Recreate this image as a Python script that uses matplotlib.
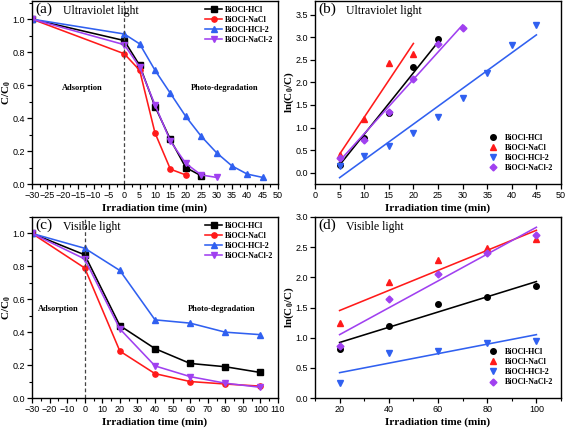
import matplotlib
matplotlib.use("Agg")
import matplotlib.pyplot as plt
from matplotlib.ticker import MultipleLocator, FormatStrFormatter

# ---- data ----
labels = ["BiOCl-HCl", "BiOCl-NaCl", "BiOCl-HCl-2", "BiOCl-NaCl-2"]
colors = ["#000000", "#ff1a1a", "#3060f0", "#a040f0"]

# (a) UV, C/C0 vs time
uv_t_hcl = [-30, 0, 5, 10, 15, 20, 25]
uv_c_hcl = [1.0, 0.87, 0.72, 0.47, 0.27, 0.10, 0.05]
uv_t_nacl = [-30, 0, 5, 10, 15, 20]
uv_c_nacl = [1.0, 0.79, 0.69, 0.31, 0.09, 0.055]
uv_t_hcl2 = [-30, 0, 5, 10, 15, 20, 25, 30, 35, 40, 45]
uv_c_hcl2 = [1.0, 0.91, 0.85, 0.69, 0.55, 0.41, 0.29, 0.19, 0.11, 0.06, 0.04]
uv_t_nacl2 = [-30, 0, 5, 10, 15, 20, 25, 30]
uv_c_nacl2 = [1.0, 0.845, 0.71, 0.48, 0.26, 0.125, 0.055, 0.04]

# (b) UV, ln(C0/C) points and fitted line ends
uvk_t_hcl = [5, 10, 15, 20, 25]
uvk_y_hcl = [0.17, 0.76, 1.32, 2.33, 2.97]
uvk_t_nacl = [5, 10, 15, 20]
uvk_y_nacl = [0.40, 1.18, 2.43, 2.63]
uvk_t_hcl2 = [5, 10, 15, 20, 25, 30, 35, 40, 45]
uvk_y_hcl2 = [0.15, 0.36, 0.60, 0.88, 1.24, 1.66, 2.20, 2.82, 3.26]
uvk_t_nacl2 = [5, 10, 15, 20, 25, 30]
uvk_y_nacl2 = [0.33, 0.73, 1.34, 2.08, 2.85, 3.20]
uvfit_x = [[5, 25], [5, 20], [5, 45], [5, 30]]
uvfit_y = [[0.17, 2.89], [0.41, 2.86], [-0.11, 3.05], [0.26, 3.27]]

# (c) visible, C/C0 vs time
vis_t = [-30, 0, 20, 40, 60, 80, 100]
vis_c_hcl = [1.0, 0.87, 0.44, 0.30, 0.21, 0.19, 0.155]
vis_c_nacl = [1.0, 0.79, 0.285, 0.148, 0.10, 0.085, 0.072]
vis_c_hcl2 = [1.0, 0.91, 0.775, 0.475, 0.455, 0.40, 0.385]
vis_c_nacl2 = [1.0, 0.845, 0.42, 0.195, 0.13, 0.09, 0.065]

# (d) visible, ln(C0/C)
visk_t = [20, 40, 60, 80, 100]
visk_y_hcl = [0.82, 1.20, 1.56, 1.67, 1.85]
visk_y_nacl = [1.25, 1.92, 2.29, 2.48, 2.63]
visk_y_hcl2 = [0.25, 0.74, 0.78, 0.91, 0.95]
visk_y_nacl2 = [0.86, 1.64, 2.05, 2.40, 2.70]
visfit_x = [20, 100]
visfit_y = [[0.92, 1.93], [1.45, 2.78], [0.42, 1.05], [1.05, 2.83]]

SERIF = "Liberation Serif"
SANS = "Liberation Sans"
plt.rcParams["font.family"] = SANS
plt.rcParams["mathtext.fontset"] = "custom"
plt.rcParams["mathtext.rm"] = SERIF
plt.rcParams["mathtext.bf"] = SERIF + ":bold"

fig = plt.figure(figsize=(5.67, 4.30), dpi=100)
W, H = 567.0, 430.0


def make_ax(l, r, t, b):
    return fig.add_axes([l / W, 1 - b / H, (r - l) / W, (b - t) / H])


ax_a = make_ax(32, 278, 1, 184)
ax_b = make_ax(315, 561, 1, 184)
ax_c = make_ax(32, 278, 217, 398)
ax_d = make_ax(315, 561, 217, 398)


def style(ax, xlabel, ylabel):
    ax.tick_params(which="major", direction="out", length=3.5, width=0.9,
                   labelsize=6.5, pad=1.5, top=False, right=False)
    ax.tick_params(which="minor", direction="out", length=2, width=0.8,
                   top=False, right=False)
    for s in ax.spines.values():
        s.set_linewidth(1.0)
    ax.set_xlabel(xlabel, fontfamily=SERIF, fontweight="bold", fontsize=8)
    ax.set_ylabel(ylabel, fontfamily=SERIF, fontweight="bold", fontsize=8)
    ax.xaxis.set_label_coords(0.5, -0.105)
    ax.yaxis.set_label_coords(-0.078, 0.5)


def title(ax, tag, txt):
    ax.text(0.012, 0.955, tag, transform=ax.transAxes, fontfamily=SERIF,
            fontsize=11, va="center", ha="left")
    ax.text(0.125, 0.945, txt, transform=ax.transAxes, fontfamily=SERIF,
            fontsize=8.5, va="center", ha="left")


legfont = {"family": SERIF, "weight": "bold", "size": 5.8}
markers_line = ["s", "o", "^", "v"]
markers_pts = ["o", "^", "v", "D"]

# (a)
ax = ax_a
series = [(uv_t_hcl, uv_c_hcl), (uv_t_nacl, uv_c_nacl),
          (uv_t_hcl2, uv_c_hcl2), (uv_t_nacl2, uv_c_nacl2)]
for (x, y), c, m, lab in zip(series, colors, markers_line, labels):
    ax.plot(x, y, color=c, marker=m, ms=3.8, lw=1.15, label=lab)
ax.axvline(0, color="#444444", ls="--", lw=0.9, dashes=(3, 2))
ax.set_xlim(-30, 50)
ax.set_ylim(0, 1.11)
ax.xaxis.set_major_locator(MultipleLocator(5))
ax.xaxis.set_minor_locator(MultipleLocator(2.5))
ax.yaxis.set_major_locator(MultipleLocator(0.2))
ax.yaxis.set_minor_locator(MultipleLocator(0.1))
ax.yaxis.set_major_formatter(FormatStrFormatter("%.1f"))
ax.text(-13.7, 0.58, "Adsorption", fontfamily=SERIF, fontweight="bold",
        fontsize=6, ha="center", va="center")
ax.text(32.5, 0.58, "Photo-degradation", fontfamily=SERIF, fontweight="bold",
        fontsize=6, ha="center", va="center")
ax.legend(loc="upper right", prop=legfont, frameon=False, handlelength=2.2,
          labelspacing=0.25, borderaxespad=0.2, handletextpad=0.3)
style(ax, "Irradiation time (min)", "C/C$_\\mathbf{0}$")
title(ax, "(a)", "Ultraviolet light")

# (b)
ax = ax_b
pts = [(uvk_t_hcl, uvk_y_hcl), (uvk_t_nacl, uvk_y_nacl),
       (uvk_t_hcl2, uvk_y_hcl2), (uvk_t_nacl2, uvk_y_nacl2)]
for (x, y), fx, fy, c, m, lab in zip(pts, uvfit_x, uvfit_y, colors, markers_pts, labels):
    ax.plot(fx, fy, color=c, lw=1.15)
    ax.plot(x, y, ls="none", color=c, marker=m, ms=4 if m != "D" else 3.5, label=lab)
ax.set_xlim(0, 50)
ax.set_ylim(-0.25, 3.8)
ax.xaxis.set_major_locator(MultipleLocator(5))
ax.yaxis.set_major_locator(MultipleLocator(0.5))
ax.yaxis.set_major_formatter(FormatStrFormatter("%.1f"))
ax.legend(loc="lower right", prop=legfont, frameon=False, handlelength=1.2,
          labelspacing=0.25, borderaxespad=0.6, handletextpad=0.8,
          bbox_to_anchor=(1.0, 0.02))
style(ax, "Irradiation time (min)", "ln(C$_\\mathbf{0}$/C)")
title(ax, "(b)", "Ultraviolet light")

# (c)
ax = ax_c
for y, c, m, lab in zip([vis_c_hcl, vis_c_nacl, vis_c_hcl2, vis_c_nacl2],
                        colors, markers_line, labels):
    ax.plot(vis_t, y, color=c, marker=m, ms=3.8, lw=1.15, label=lab)
ax.axvline(0, color="#444444", ls="--", lw=0.9, dashes=(3, 2))
ax.set_xlim(-30, 110)
ax.set_ylim(0, 1.1)
ax.xaxis.set_major_locator(MultipleLocator(10))
ax.xaxis.set_minor_locator(MultipleLocator(5))
ax.yaxis.set_major_locator(MultipleLocator(0.2))
ax.yaxis.set_minor_locator(MultipleLocator(0.1))
ax.yaxis.set_major_formatter(FormatStrFormatter("%.1f"))
ax.text(-15, 0.54, "Adsorption", fontfamily=SERIF, fontweight="bold",
        fontsize=6, ha="center", va="center")
ax.text(78, 0.54, "Photo-degradation", fontfamily=SERIF, fontweight="bold",
        fontsize=6, ha="center", va="center")
ax.legend(loc="upper right", prop=legfont, frameon=False, handlelength=2.2,
          labelspacing=0.25, borderaxespad=0.2, handletextpad=0.3)
style(ax, "Irradiation time (min)", "C/C$_\\mathbf{0}$")
title(ax, "(c)", "Visible light")

# (d)
ax = ax_d
for y, fy, c, m, lab in zip([visk_y_hcl, visk_y_nacl, visk_y_hcl2, visk_y_nacl2],
                            visfit_y, colors, markers_pts, labels):
    ax.plot(visfit_x, fy, color=c, lw=1.15)
    ax.plot(visk_t, y, ls="none", color=c, marker=m, ms=4 if m != "D" else 3.5, label=lab)
ax.set_xlim(10, 110)
ax.set_ylim(0, 3.0)
ax.xaxis.set_major_locator(MultipleLocator(20))
ax.xaxis.set_minor_locator(MultipleLocator(10))
ax.yaxis.set_major_locator(MultipleLocator(0.5))
ax.yaxis.set_major_formatter(FormatStrFormatter("%.1f"))
ax.legend(loc="lower right", prop=legfont, frameon=False, handlelength=1.2,
          labelspacing=0.25, borderaxespad=0.6, handletextpad=0.8,
          bbox_to_anchor=(1.0, 0.02))
style(ax, "Irradiation time (min)", "ln(C$_\\mathbf{0}$/C)")
title(ax, "(d)", "Visible light")

fig.savefig("out.png", dpi=100)
